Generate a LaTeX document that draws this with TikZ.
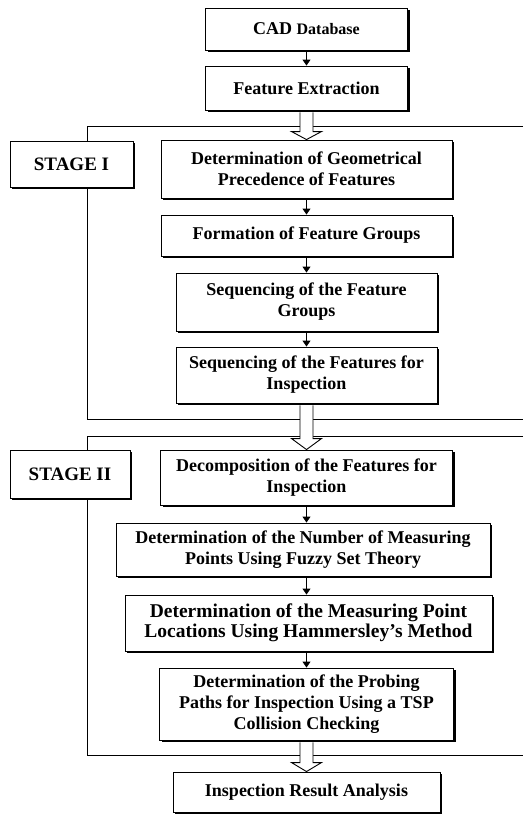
\documentclass[tikz,border=0pt]{standalone}
\usepackage{fontspec}
\setmainfont{Liberation Serif}
\usetikzlibrary{shadows,arrows.meta,calc}

\begin{document}
\begin{tikzpicture}[x=1pt,y=-1pt,
  box/.style={draw, line width=0.9pt, fill=white, align=center, inner sep=0pt,
    font=\bfseries\fontsize{18}{21}\selectfont,
    drop shadow={shadow xshift=2pt, shadow yshift=-2pt, fill=black, opacity=1}},
  bigtext/.style={font=\bfseries\fontsize{19.5}{20}\selectfont},
  stagebox/.style={box, font=\bfseries\fontsize{19}{21}\selectfont},
  arr/.style={line width=0.9pt, -{Triangle[width=8pt,length=6pt]}},
  hollow/.style={draw, fill=white, line width=0.9pt},
  frame/.style={line width=0.8pt}]

\useasboundingbox (0,0) rectangle (523,815);

% stage frames (open to the right)
\draw[frame] (523,126) -- (87,126) -- (87,419) -- (523,419);
\draw[frame] (523,436) -- (87,436) -- (87,755) -- (523,755);

% process boxes
\node[box, minimum width=202pt, minimum height=42pt] (cad) at (306.5,29)
  {{\fontsize{18}{21}\selectfont CAD} {\fontsize{16}{18}\selectfont Database}};
\node[box, minimum width=202pt, minimum height=44pt] (fe) at (306.5,88)
  {Feature Extraction};
\node[box, minimum width=291pt, minimum height=58pt] (dg) at (306.5,169)
  {Determination of Geometrical\\Precedence of Features};
\node[box, minimum width=291pt, minimum height=41pt] (fg) at (306.5,235.5)
  {Formation of Feature Groups};
\node[box, minimum width=261pt, minimum height=58pt] (sg) at (306.5,302)
  {Sequencing of the Feature\\Groups};
\node[box, minimum width=261pt, minimum height=56pt] (sf) at (306.5,375)
  {Sequencing of the Features for\\Inspection};

\node[stagebox, minimum width=123pt, minimum height=46pt] (st1) at (71.5,164)
  {STAGE I};
\node[stagebox, minimum width=120pt, minimum height=48pt] (st2) at (70,474)
  {STAGE II};

\node[box, minimum width=292pt, minimum height=55pt] (dc) at (306.5,477.5)
  {Decomposition of the Features for\\Inspection};
\node[box, minimum width=374pt, minimum height=53pt] (nm) at (303,549.5)
  {Determination of the Number of Measuring\\Points Using Fuzzy Set Theory};
\node[box, bigtext, minimum width=367pt, minimum height=56pt] (mp) at (308.5,623)
  {Determination of the Measuring Point\\Locations Using Hammersley's Method};
\node[box, minimum width=294pt, minimum height=72pt] (pp) at (306.5,704)
  {Determination of the Probing\\Paths for Inspection Using a TSP\\Collision Checking};
\node[box, minimum width=267pt, minimum height=40pt] (ir) at (306.5,792)
  {Inspection Result Analysis};

% thin arrows along the main axis
\draw[arr] (cad.south) -- (fe.north);
\draw[arr] (dg.south) -- (fg.north);
\draw[arr] (fg.south) -- (sg.north);
\draw[arr] (sg.south) -- (sf.north);
\draw[arr] (dc.south) -- (dc.south |- nm.north);
\draw[arr] (nm.south -| dc.south) -- (mp.north -| dc.south);
\draw[arr] (mp.south -| dc.south) -- (pp.north);

% hollow block arrows between stages
\filldraw[hollow] ($(fe.south)+(-6.5,2)$) -- ($(dg.north)+(-6.5,-8)$)
  -- ($(dg.north)+(-15,-8)$) -- (dg.north) -- ($(dg.north)+(15,-8)$)
  -- ($(dg.north)+(6.5,-8)$) -- ($(fe.south)+(6.5,2)$);
\filldraw[hollow] ($(sf.south)+(-6.5,2)$) -- ($(dc.north)+(-6.5,-11)$)
  -- ($(dc.north)+(-15,-11)$) -- (dc.north) -- ($(dc.north)+(15,-11)$)
  -- ($(dc.north)+(6.5,-11)$) -- ($(sf.south)+(6.5,2)$);
\filldraw[hollow] ($(pp.south)+(-6.5,2)$) -- ($(ir.north)+(-6.5,-9)$)
  -- ($(ir.north)+(-15,-9)$) -- (ir.north) -- ($(ir.north)+(15,-9)$)
  -- ($(ir.north)+(6.5,-9)$) -- ($(pp.south)+(6.5,2)$);

\end{tikzpicture}
\end{document}
